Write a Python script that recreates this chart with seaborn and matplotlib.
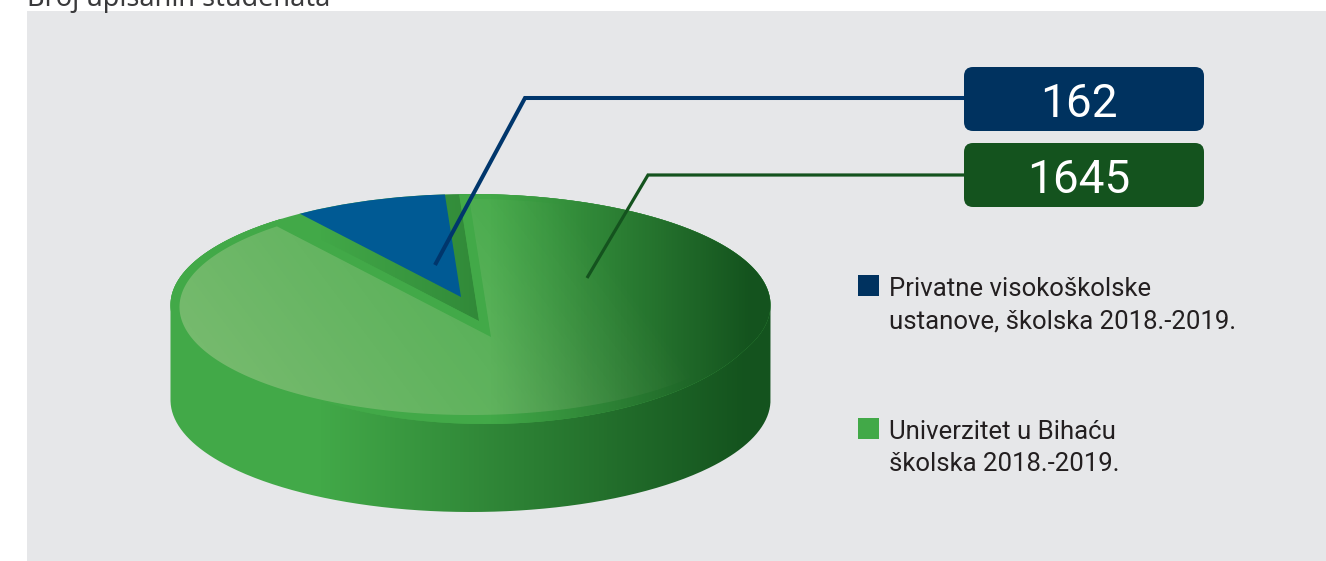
import numpy as np
import matplotlib
matplotlib.use("Agg")
import matplotlib.pyplot as plt
from matplotlib.patches import Circle, FancyBboxPatch, Rectangle, PathPatch
from matplotlib.path import Path
from matplotlib import font_manager as fm
import seaborn as sns

title = "Broj upisanih studenata"
categories = ["Univerzitet u Bihaću\nškolska 2018.-2019.",
              "Privatne visokoškolske\nustanove, školska 2018.-2019."]
values = [1645, 162]

BG = "#e6e7e9"
GREEN = "#42a948"
DARK_GREEN = "#14531e"
BLUE = "#005a94"
NAVY = "#00325f"

sns.set_theme(style="white")
names = {f.name for f in fm.fontManager.ttflist}
NARROW = ["Liberation Sans Narrow"] if "Liberation Sans Narrow" in names else ["Roboto"]
plt.rcParams["font.family"] = NARROW + ["DejaVu Sans"]

W, H = 1326, 561
fig = plt.figure(figsize=(W / 100, H / 100), dpi=100, facecolor="white")

# pie axes: unit circle is the top ellipse of the disc
CX, CY, RX, RY = 470.5, 305.0, 300.0, 111.0
def u(x): return (np.asarray(x, float) - CX) / RX
def v(y): return (CY - np.asarray(y, float)) / RY

ax = fig.add_axes([0, 0, 1, 1])
ax.add_patch(Rectangle((u(27), v(561)), u(W) - u(27), v(11) - v(561), fc=BG, ec="none", zorder=0))

APEX_G = (u(479), v(321))
APEX_B = (u(461), v(297))
APEX_F = (u(491), v(337))

wedges, _ = ax.pie(values, startangle=125.6, counterclock=True, radius=1.7,
                   center=APEX_G, colors=[GREEN, BLUE], wedgeprops=dict(linewidth=0))
green_w, blue_w = wedges
ax.set_aspect("auto")
ax.set_frame_on(False)
extent = [u(0), u(W), v(H), v(0)]

def ray_hit(apex, ang, c, ru, rv):
    dx, dy = np.cos(ang), np.sin(ang)
    ox, oy = (apex[0] - c[0]) / ru, (apex[1] - c[1]) / rv
    a = (dx / ru) ** 2 + (dy / rv) ** 2
    b = 2 * (ox * dx / ru + oy * dy / rv)
    cc = ox ** 2 + oy ** 2 - 1
    return (-b + np.sqrt(np.maximum(b * b - 4 * a * cc, 0))) / (2 * a)

def sector_path(apex, t1, t2, radius_fn):
    th = np.radians(np.linspace(t1, t2, 500))
    r = radius_fn(th)
    xs = np.r_[apex[0], apex[0] + r * np.cos(th), apex[0]]
    ys = np.r_[apex[1], apex[1] + r * np.sin(th), apex[1]]
    return Path(np.c_[xs, ys], closed=True)

E2 = ((u(485), v(298)), 285 / RX, 126 / RY)
def rim_radius(th):
    r1 = ray_hit(APEX_G, th, (0, 0), 1, 1)
    r2 = ray_hit(APEX_G, th, *E2)
    return np.where(np.sin(th) > 0, r1, np.maximum(r1, r2))

F = ((0.0, v(307)), 291 / RX, 108 / RY)
def face_radius(th):
    return ray_hit(APEX_F, th, *F)

t1, t2 = green_w.theta1, green_w.theta2
rim_path = sector_path(APEX_G, t1, t2, rim_radius)
face_path = sector_path(APEX_F, t1, t2, face_radius)

# side wall outline
th_up = np.radians(np.linspace(180, 0, 300))
th_lo = np.radians(np.linspace(0, -180, 300))
ox = np.r_[np.cos(th_up), np.cos(th_lo)]
oy = np.r_[np.sin(th_up), v(400) + (112 / RY) * np.sin(th_lo)]
side_path = Path(np.c_[ox, oy], closed=False)

lut = np.array(sns.blend_palette([GREEN, DARK_GREEN], n_colors=256))
def hgrad(x0, x1):
    xx = np.arange(W)
    idx = np.clip((xx - x0) / (x1 - x0), 0, 1) * 255
    return np.tile(lut[idx.astype(int)][None, :, :], (H, 1, 1))

side = ax.imshow(hgrad(320, 745), extent=extent, aspect="auto", zorder=1, interpolation="bilinear")
side.set_clip_path(PathPatch(side_path, transform=ax.transData))

green_w.set_zorder(2)
green_w.set_clip_on(True)
green_w.set_clip_path(PathPatch(rim_path, transform=ax.transData))

rim = ax.imshow(hgrad(490, 750), extent=extent, aspect="auto", zorder=3, interpolation="bilinear")
rim.set_clip_path(PathPatch(rim_path, transform=ax.transData))

yy, xx = np.mgrid[0:H, 0:W]
s = xx - 0.75 * (yy - 307)
alpha = np.interp(s, [130, 450, 560, 650], [0.33, 0.16, 0.06, 0.0])
over = np.zeros((H, W, 4))
over[..., :3] = np.array([235, 225, 195]) / 255
over[..., 3] = alpha
face = ax.imshow(over, extent=extent, aspect="auto", zorder=4, interpolation="bilinear")
face.set_clip_path(PathPatch(face_path, transform=ax.transData))

blue_w.set_center(APEX_B)
blue_w.set_zorder(5)
blue_w.set_clip_on(True)
blue_w.set_clip_path(Circle((0, 0), 1, transform=ax.transData))

ax.set_xlim(u(0), u(W))
ax.set_ylim(v(H), v(0))

# overlay axes in picture pixels for labels
top = fig.add_axes([0, 0, 1, 1], zorder=10)
top.patch.set_alpha(0)
top.set_xlim(0, W)
top.set_ylim(H, 0)
top.axis("off")

top.text(27, 5.5, title, fontsize=19.5, color="#3a3a3c", family=["Noto Sans", "DejaVu Sans"],
         ha="left", va="baseline", clip_on=False)

private_val, univ_val = values[1], values[0]
top.plot([435, 525, 964], [265, 98, 98], color="#00366c", lw=2.9, solid_joinstyle="miter", solid_capstyle="butt")
top.plot([587, 648, 964], [278, 175, 175], color=DARK_GREEN, lw=2.3, solid_joinstyle="miter", solid_capstyle="butt")

for y0, col, val in [(67, NAVY, private_val), (143, DARK_GREEN, univ_val)]:
    top.add_patch(FancyBboxPatch((964, y0), 240, 64, boxstyle="round,pad=0,rounding_size=9",
                                 fc=col, ec="none"))
    top.text(1079, y0 + 49.5, str(val), color="white", fontsize=33, ha="center", va="baseline")

for y0, col, lab in [(275, NAVY, categories[1]), (418, GREEN, categories[0])]:
    top.add_patch(Rectangle((858, y0), 21, 21, fc=col, ec="none"))
    l1, l2 = lab.split("\n")
    top.text(889, y0 + 21, l1, fontsize=18.5, color="#231f20", ha="left", va="baseline")
    top.text(889, y0 + 53, l2, fontsize=18.5, color="#231f20", ha="left", va="baseline")

fig.savefig("out.png", dpi=100, facecolor="white")
